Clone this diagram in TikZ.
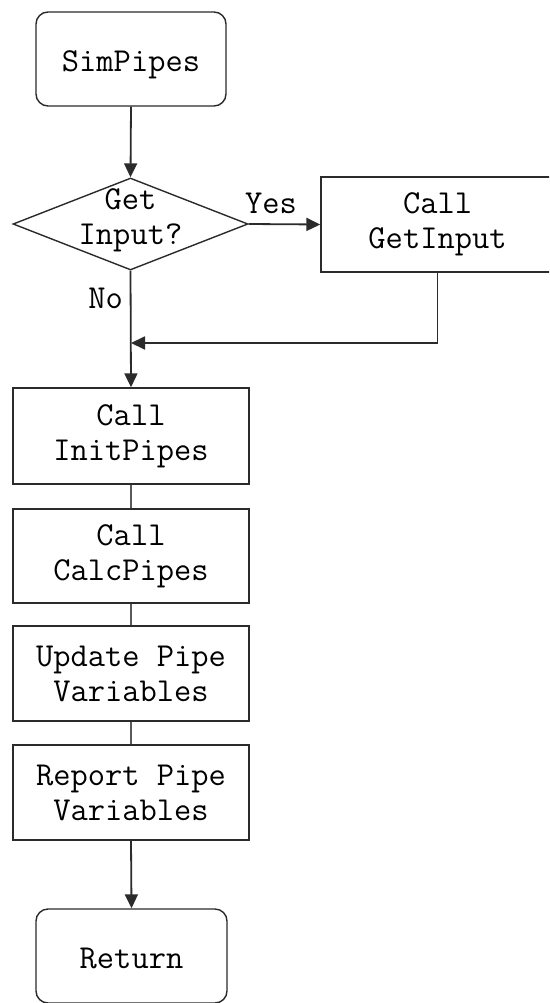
\documentclass[tikz,border=0pt]{standalone}
\usepackage{fontspec}
\usetikzlibrary{arrows.meta,shapes.geometric}
\definecolor{ln}{HTML}{2B2B2B}
\definecolor{lg}{HTML}{5A5A5A}
\begin{document}
\begin{tikzpicture}[x=1pt,y=-1pt,
  every node/.style={font=\fontsize{33.5}{35}\selectfont\ttfamily, text=black},
  term/.style={draw=ln, line width=1.4pt, rounded corners=12pt, inner sep=0pt, text height=25pt, text depth=0pt},
  proc/.style={draw=ln, line width=1.4pt, align=center, inner sep=0pt},
  dec/.style={draw=ln, line width=1.4pt, diamond, inner sep=0pt, minimum width=235pt, minimum height=92pt},
  arr/.style={draw=ln, line width=1.8pt, -{Triangle[length=14pt,width=13pt]}},
  con/.style={draw=lg, line width=2pt}]
\useasboundingbox (0,0) rectangle (549,1003);
\clip (0,0) rectangle (549,1003);
\fill[white] (0,0) rectangle (549,1003);
\node[term, minimum width=190pt, minimum height=94pt] (sim) at (131,59) {SimPipes};
\node[dec] (get) at (130.5,224) {};
\node[align=center, inner sep=0pt] (gett) at (130.5,220) {Get\\Input?};
\node[proc, minimum width=233pt, minimum height=95pt] (gi) at (437.5,224.5) {Call\\GetInput};
\node[proc, minimum width=236pt, minimum height=96pt] (init) at (131,436) {Call\\InitPipes};
\node[proc, minimum width=236pt, minimum height=94pt] (calc) at (131,556) {Call\\CalcPipes};
\node[proc, minimum width=236pt, minimum height=95pt] (upd) at (131,673.5) {Update Pipe\\Variables};
\node[proc, minimum width=236pt, minimum height=95pt] (rep) at (131,792.5) {Report Pipe\\Variables};
\node[term, minimum width=191pt, minimum height=94pt] (ret) at (131.5,956) {Return};
\coordinate (j) at (131,343);
\node (yes) at (271,203) {Yes};
\node[anchor=east, inner sep=0pt] (no) at (123,298) {No};
\draw[arr] (sim.south) -- (get.north);
\draw[arr] (get.east) -- (gi.west);
\draw[arr] (gi.south) |- (j);
\draw[arr] (get.south) -- (init.north);
\draw[con] (init.south) -- (calc.north);
\draw[con] (calc.south) -- (upd.north);
\draw[con] (upd.south) -- (rep.north);
\draw[arr] (rep.south) -- (ret.north);
\end{tikzpicture}
\end{document}
